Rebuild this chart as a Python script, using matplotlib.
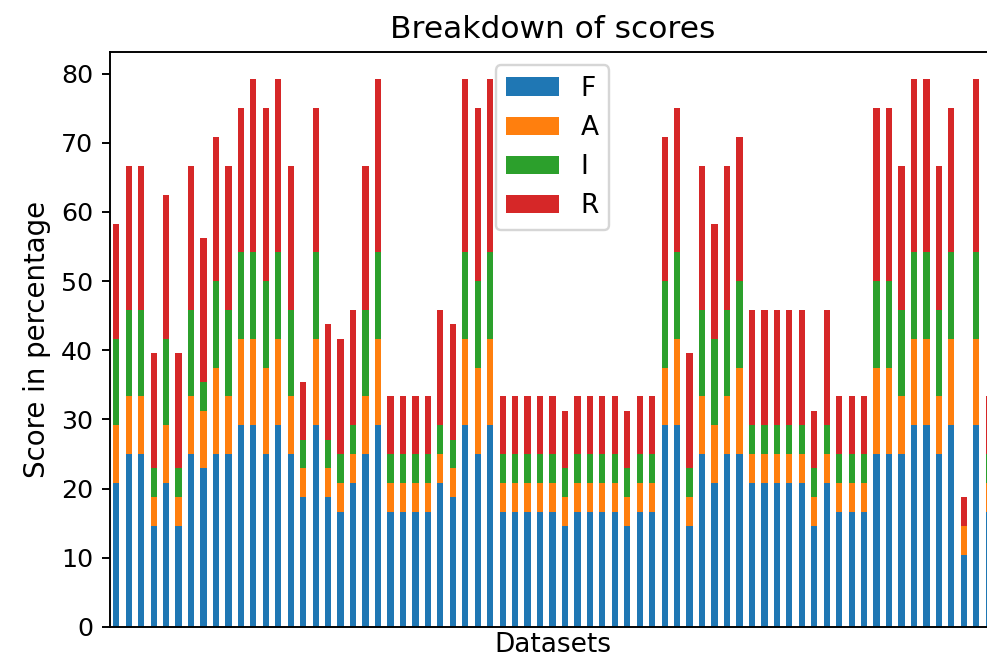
import numpy as np
import pandas as pd
import matplotlib
matplotlib.use('Agg')
import matplotlib.pyplot as plt

# FAIR breakdown per dataset (percent)
F = [20.83, 25, 25, 14.58, 20.83, 14.58, 25, 22.92, 25, 25,
     29.17, 29.17, 25, 29.17, 25, 18.75, 29.17, 18.75, 16.67, 20.83,
     25, 29.17, 16.67, 16.67, 16.67, 16.67, 20.83, 18.75, 29.17, 25,
     29.17, 16.67, 16.67, 16.67, 16.67, 16.67, 14.58, 16.67, 16.67, 16.67,
     16.67, 14.58, 16.67, 16.67, 29.17, 29.17, 14.58, 25, 20.83, 25,
     25, 20.83, 20.83, 20.83, 20.83, 20.83, 14.58, 20.83, 16.67, 16.67,
     16.67, 25, 25, 25, 29.17, 29.17, 25, 29.17, 10.42, 29.17,
     16.67]
A = [8.33, 8.33, 8.33, 4.17, 8.33, 4.17, 8.33, 8.33, 12.5, 8.33,
     12.5, 12.5, 12.5, 12.5, 8.33, 4.17, 12.5, 4.17, 4.17, 4.17,
     8.33, 12.5, 4.17, 4.17, 4.17, 4.17, 4.17, 4.17, 12.5, 12.5,
     12.5, 4.17, 4.17, 4.17, 4.17, 4.17, 4.17, 4.17, 4.17, 4.17,
     4.17, 4.17, 4.17, 4.17, 8.33, 12.5, 4.17, 8.33, 8.33, 8.33,
     12.5, 4.17, 4.17, 4.17, 4.17, 4.17, 4.17, 4.17, 4.17, 4.17,
     4.17, 12.5, 12.5, 8.33, 12.5, 12.5, 8.33, 12.5, 4.17, 12.5,
     4.17]
I = [12.5, 12.5, 12.5, 4.17, 12.5, 4.17, 12.5, 4.17, 12.5, 12.5,
     12.5, 12.5, 12.5, 12.5, 12.5, 4.17, 12.5, 4.17, 4.17, 4.17,
     12.5, 12.5, 4.17, 4.17, 4.17, 4.17, 4.17, 4.17, 12.5, 12.5,
     12.5, 4.17, 4.17, 4.17, 4.17, 4.17, 4.17, 4.17, 4.17, 4.17,
     4.17, 4.17, 4.17, 4.17, 12.5, 12.5, 4.17, 12.5, 12.5, 12.5,
     12.5, 4.17, 4.17, 4.17, 4.17, 4.17, 4.17, 4.17, 4.17, 4.17,
     4.17, 12.5, 12.5, 12.5, 12.5, 12.5, 12.5, 12.5, 0, 12.5,
     4.17]
R = [16.67, 20.83, 20.83, 16.67, 20.83, 16.67, 20.83, 20.83, 20.83, 20.83,
     20.83, 25, 25, 25, 20.83, 8.33, 20.83, 16.67, 16.67, 16.67,
     20.83, 25, 8.33, 8.33, 8.33, 8.33, 16.67, 16.67, 25, 25,
     25, 8.33, 8.33, 8.33, 8.33, 8.33, 8.33, 8.33, 8.33, 8.33,
     8.33, 8.33, 8.33, 8.33, 20.83, 20.83, 16.67, 20.83, 16.67, 20.83,
     20.83, 16.67, 16.67, 16.67, 16.67, 16.67, 8.33, 16.67, 8.33, 8.33,
     8.33, 25, 25, 20.83, 25, 25, 20.83, 20.83, 4.17, 25,
     8.33]

df = pd.DataFrame({'F': F, 'A': A, 'I': I, 'R': R})

DPI = 173
fig = plt.figure(figsize=(987 / DPI, 658 / DPI), dpi=DPI)
# axes runs a bit past the right edge, like the cropped original
ax = fig.add_axes([110 / 987, 31 / 658, 885 / 987, 575 / 658])
df.plot(kind='bar', stacked=True, ax=ax)
ax.set_xticks([])
ax.tick_params(axis='y', labelsize=10.5)
ax.set_xlabel('Datasets', fontsize=11, labelpad=2)
ax.set_ylabel('Score in percentage', fontsize=11.5)
ax.set_title('Breakdown of scores', fontsize=13)
ax.legend(loc='upper center', fontsize=11)

fig.savefig('out.png', dpi=DPI)
